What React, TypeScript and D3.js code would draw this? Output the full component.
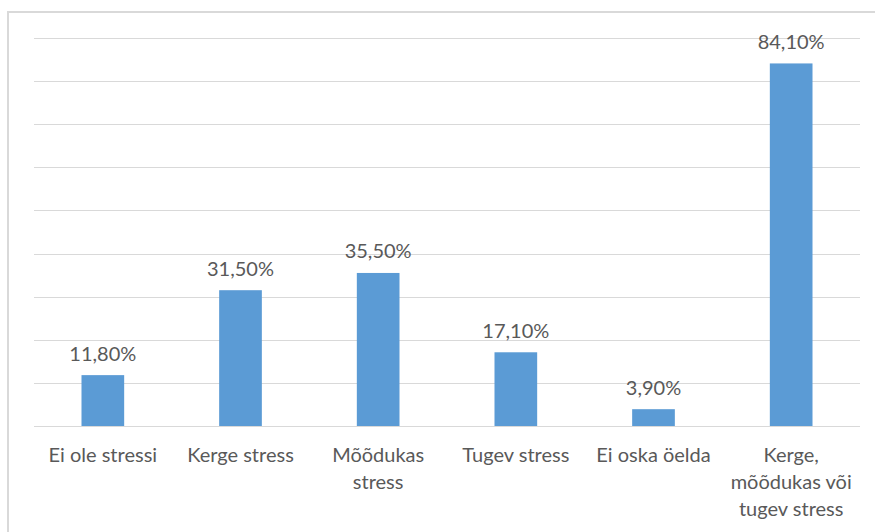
import React from "react";
import * as d3 from "d3";

const categories: string[][] = [
  ["Ei ole stressi"],
  ["Kerge stress"],
  ["Mõõdukas", "stress"],
  ["Tugev stress"],
  ["Ei oska öelda"],
  ["Kerge,", "mõõdukas või", "tugev stress"],
];
const values: number[] = [11.8, 31.5, 35.5, 17.1, 3.9, 84.1];
const yTicks: number[] = [0, 10, 20, 30, 40, 50, 60, 70, 80, 90];

const W = 875;
const H = 532;
const plotLeft = 34;
const plotRight = 860;
const plotTop = 38;
const plotBottom = 426;
const FONT = "Lato, 'Open Sans', sans-serif";
const TEXT_COLOR = "#595959";

export default function App() {
  const x = d3
    .scaleBand<number>()
    .domain(values.map((_, i) => i))
    .range([plotLeft, plotRight])
    .paddingInner(0.69)
    .paddingOuter(0.345);
  const y = d3.scaleLinear().domain([0, 90]).range([plotBottom, plotTop]);
  const step = (plotRight - plotLeft) / values.length;
  const fmt = (v: number) => v.toFixed(2).replace(".", ",") + "%";

  return (
    <svg
      width={W}
      height={H}
      style={{ position: "absolute", left: 0, top: 0, background: "#fff" }}
    >
      <rect x={0} y={0} width={W} height={H} fill="#fff" />
      <rect
        x={8}
        y={12}
        width={W + 20}
        height={H + 20}
        fill="#fff"
        stroke="#d9d9d9"
        strokeWidth={2}
      />
      {yTicks.map((t) => (
        <line
          key={t}
          x1={plotLeft}
          x2={plotRight}
          y1={Math.round(y(t)) + 0.5}
          y2={Math.round(y(t)) + 0.5}
          stroke="#d9d9d9"
          strokeWidth={1}
        />
      ))}
      {values.map((v, i) => (
        <g key={i}>
          <rect
            x={x(i)!}
            y={y(v)}
            width={x.bandwidth()}
            height={plotBottom - y(v)}
            fill="#5b9bd5"
          />
          <text
            x={x(i)! + x.bandwidth() / 2}
            y={y(v) - 14.5}
            textAnchor="middle"
            fontFamily={FONT}
            fontSize={20}
            fill={TEXT_COLOR}
          >
            {fmt(v)}
          </text>
        </g>
      ))}
      {categories.map((lines, i) => (
        <text
          key={i}
          x={plotLeft + step * (i + 0.5)}
          y={462}
          textAnchor="middle"
          fontFamily={FONT}
          fontSize={20}
          fill={TEXT_COLOR}
        >
          {lines.map((l, j) => (
            <tspan key={j} x={plotLeft + step * (i + 0.5)} dy={j === 0 ? 0 : 27}>
              {l}
            </tspan>
          ))}
        </text>
      ))}
    </svg>
  );
}
